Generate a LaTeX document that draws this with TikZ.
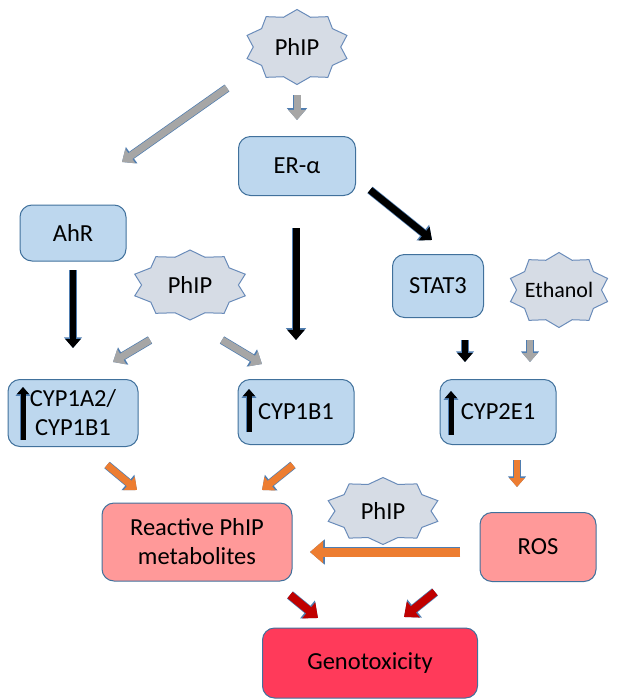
\documentclass[tikz,border=0pt]{standalone}
\usepackage{fontspec}
\setmainfont{Carlito}
\usetikzlibrary{shapes.geometric,arrows.meta,positioning}

\definecolor{boxblue}{HTML}{BDD7EE}
\definecolor{boxline}{HTML}{41719C}
\definecolor{starfill}{HTML}{D6DCE5}
\definecolor{starline}{HTML}{6A8CBA}
\definecolor{pinkbox}{HTML}{FF9999}
\definecolor{genored}{HTML}{FF3A5A}
\definecolor{arrgray}{HTML}{A6A6A6}
\definecolor{arrblack}{HTML}{000000}
\definecolor{arrorange}{HTML}{ED7D31}
\definecolor{arrred}{HTML}{C00000}
\definecolor{arrline}{HTML}{4F7DB0}

\tikzset{
  cellbox/.style={draw=boxline, fill=boxblue, line width=1pt, rounded corners=12pt,
    align=center, inner sep=0pt},
  hotbox/.style={cellbox, fill=pinkbox},
  starnode/.style={star, star points=10, star point ratio=1.2, draw=starline,
    fill=starfill, line width=1pt, inner sep=0pt},
  blockarr/.style args={#1/#2/#3}{draw=#1, line width=#2,
    -{Triangle[width=#3, length=0.6*#3]},
    preaction={draw=arrline, line width=#2+1.4pt,
      -{Triangle[width=#3+2.4pt, length=0.6*#3+1.6pt]}}}
}

\begin{document}
\begin{tikzpicture}[x=1pt, y=-1pt, font=\fontsize{24.5}{29}\selectfont]

	\useasboundingbox (0,0) rectangle (629,699);

	% first row
	\node[starnode, minimum size=75pt, xscale=1.4] (PhIPa) at (297,47) {};
	\node at (PhIPa) {PhIP};
	\node[cellbox, minimum width=117pt, minimum height=59pt] (ERa) at (297,166) {ER-α};
	\node[cellbox, minimum width=106pt, minimum height=56pt] (AhR) at (73,233) {AhR};

	% second row
	\node[starnode, minimum size=70pt, xscale=1.66] (PhIPb) at (190,285) {};
	\node at (PhIPb) {PhIP};
	\node[cellbox, minimum width=91pt, minimum height=63pt] (STAT3) at (438,286) {STAT3};
	\node[starnode, minimum size=75pt, xscale=1.36] (Eth) at (559,290) {};
	\node[font=\fontsize{22}{26}\selectfont] at (Eth) {Ethanol};

	% enzymes
	\node[cellbox, minimum width=130pt, minimum height=67pt] (CYPa) at (73,413) {CYP1A2/\\CYP1B1};
	\node[cellbox, minimum width=116pt, minimum height=65pt] (CYPb) at (296,412) {CYP1B1};
	\node[cellbox, minimum width=116pt, minimum height=65pt] (CYPc) at (498,412) {CYP2E1};

	% products
	\node[hotbox, minimum width=190pt, minimum height=78pt] (RPM) at (197,542) {Reactive PhIP\\metabolites};
	\node[starnode, minimum size=67pt, xscale=1.72] (PhIPc) at (383,511) {};
	\node at (PhIPc) {PhIP};
	\node[hotbox, minimum width=116pt, minimum height=69pt] (ROS) at (538,547) {ROS};
	\node[cellbox, fill=genored, minimum width=215pt, minimum height=70pt] (Geno) at (370,663) {Genotoxicity};

	% up arrows inside the enzyme boxes
	\draw[blockarr=arrblack/5pt/12pt] ([shift={(-50,27)}]CYPa.center) -- ([shift={(-50,-26)}]CYPa.center);
	\draw[blockarr=arrblack/5pt/12pt] ([shift={(-47,20)}]CYPb.center) -- ([shift={(-47,-23)}]CYPb.center);
	\draw[blockarr=arrblack/5pt/12pt] ([shift={(-47,23)}]CYPc.center) -- ([shift={(-47,-21)}]CYPc.center);

	% gray arrows
	\draw[blockarr=arrgray/7pt/17pt] ([shift={(0,48)}]PhIPa.center) -- ([shift={(0,-46)}]ERa.center);
	\draw[blockarr=arrgray/7pt/17pt] ([shift={(-70,41)}]PhIPa.center) -- ([shift={(49,-71)}]AhR.center);
	\draw[blockarr=arrgray/7pt/17pt] ([shift={(-40,55)}]PhIPb.center) -- ([shift={(40,-51)}]CYPa.center);
	\draw[blockarr=arrgray/7pt/17pt] ([shift={(32,55)}]PhIPb.center) -- ([shift={(-34,-48)}]CYPb.center);
	\draw[blockarr=arrgray/6pt/15pt] ([shift={(-29,50)}]Eth.center) -- ([shift={(32,-50)}]CYPc.center);

	% black arrows
	\draw[blockarr=arrblack/7pt/17pt] ([shift={(-1,62)}]ERa.center) -- ([shift={(0,-72)}]CYPb.center);
	\draw[blockarr=arrblack/7pt/17pt] ([shift={(73,24)}]ERa.center) -- ([shift={(-6,-46)}]STAT3.center);
	\draw[blockarr=arrblack/6pt/15pt] ([shift={(0,37)}]AhR.center) -- ([shift={(0,-65)}]CYPa.center);
	\draw[blockarr=arrblack/6pt/15pt] ([shift={(27,54)}]STAT3.center) -- ([shift={(-33,-50)}]CYPc.center);

	% orange arrows
	\draw[blockarr=arrorange/7pt/17pt] ([shift={(34,52)}]CYPa.center) -- ([shift={(-60,-52)}]RPM.center);
	\draw[blockarr=arrorange/7pt/17pt] ([shift={(-3,53)}]CYPb.center) -- ([shift={(65,-52)}]RPM.center);
	\draw[blockarr=arrorange/6pt/15pt] ([shift={(19,48)}]CYPc.center) -- ([shift={(-21,-60)}]ROS.center);
	\draw[blockarr=arrorange/9pt/22pt] ([shift={(-78,5)}]ROS.center) -- ([shift={(113,10)}]RPM.center);

	% red arrows
	\draw[blockarr=arrred/8pt/20pt] ([shift={(93,53)}]RPM.center) -- ([shift={(-52,-45)}]Geno.center);
	\draw[blockarr=arrred/8pt/20pt] ([shift={(-103,45)}]ROS.center) -- ([shift={(34,-46)}]Geno.center);

\end{tikzpicture}
\end{document}
